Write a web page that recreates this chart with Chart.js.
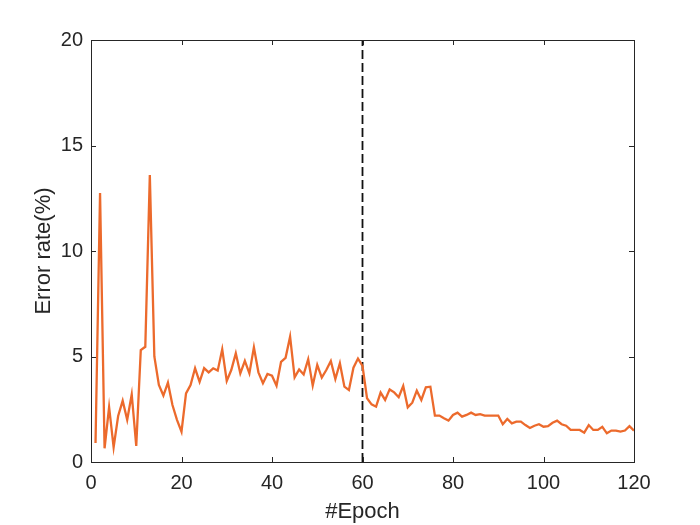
<!DOCTYPE html>
<html>
<head>
<meta charset="utf-8">
<script src="https://cdn.jsdelivr.net/npm/chart.js@4/dist/chart.umd.min.js"></script>
<style>
  body { margin: 0; background: #fff; }
  #wrap { width: 700px; height: 525px; }
</style>
</head>
<body>
<div id="wrap"><canvas id="c" width="700" height="525"></canvas></div>
<script>
// error rate (%) for epochs 1..120
var errorRate = [
  0.9, 12.75, 0.65, 2.6, 0.7, 2.18, 2.9, 2.0, 3.2, 0.76,
  5.3, 5.46, 13.6, 5.0, 3.65, 3.15, 3.76, 2.7, 2.0, 1.44,
  3.25, 3.65, 4.44, 3.8, 4.45, 4.25, 4.44, 4.33, 5.34, 3.84,
  4.36, 5.15, 4.2, 4.79, 4.2, 5.43, 4.25, 3.73, 4.17, 4.09,
  3.62, 4.75, 4.94, 5.94, 4.01, 4.39, 4.15, 4.87, 3.62, 4.6,
  4.0, 4.36, 4.79, 3.93, 4.68, 3.57, 3.41, 4.47, 4.9, 4.55,
  3.02, 2.73, 2.62, 3.29, 2.94, 3.44, 3.3, 3.07, 3.6, 2.59,
  2.81, 3.38, 2.94, 3.54, 3.57, 2.2, 2.2, 2.07, 1.96, 2.23,
  2.34, 2.15, 2.23, 2.34, 2.23, 2.27, 2.2, 2.2, 2.2, 2.2,
  1.79, 2.04, 1.83, 1.91, 1.91, 1.75, 1.61, 1.72, 1.79, 1.67,
  1.7, 1.86, 1.96, 1.79, 1.72, 1.52, 1.52, 1.52, 1.39, 1.75,
  1.52, 1.52, 1.67, 1.36, 1.49, 1.49, 1.44, 1.49, 1.7, 1.49
];
var epochs = errorRate.map(function (v, i) { return i + 1; });
var markerEpoch = 60;
var xTicks = [0, 20, 40, 60, 80, 100, 120];
var yTicks = [0, 5, 10, 15, 20];

var points = epochs.map(function (e, i) { return { x: e, y: errorRate[i] }; });
var markerLine = [{ x: markerEpoch, y: yTicks[0] }, { x: markerEpoch, y: yTicks[yTicks.length - 1] }];

var axisColor = '#262626';
var fontFamily = 'Liberation Sans, Arial, sans-serif';

// box + inward ticks, MATLAB style
var boxPlugin = {
  id: 'boxTicks',
  afterDraw: function (chart) {
    var ctx = chart.ctx, a = chart.chartArea;
    var xs = chart.scales.x, ys = chart.scales.y;
    var len = 5;
    ctx.save();
    ctx.strokeStyle = axisColor;
    ctx.lineWidth = 1;
    ctx.strokeRect(Math.round(a.left) + 0.5, Math.round(a.top) + 0.5,
                   Math.round(a.right - a.left), Math.round(a.bottom - a.top));
    ctx.beginPath();
    xTicks.forEach(function (t) {
      var px = Math.round(xs.getPixelForValue(t)) + 0.5;
      ctx.moveTo(px, a.bottom); ctx.lineTo(px, a.bottom - len);
      ctx.moveTo(px, a.top); ctx.lineTo(px, a.top + len);
    });
    yTicks.forEach(function (t) {
      var py = Math.round(ys.getPixelForValue(t)) + 0.5;
      ctx.moveTo(a.left, py); ctx.lineTo(a.left + len, py);
      ctx.moveTo(a.right, py); ctx.lineTo(a.right - len, py);
    });
    ctx.stroke();
    ctx.restore();
  }
};

new Chart(document.getElementById('c').getContext('2d'), {
  type: 'line',
  data: {
    datasets: [{
      label: 'Error rate',
      data: points,
      borderColor: '#EC6A2C',
      borderWidth: 2.3,
      pointRadius: 0,
      tension: 0,
      fill: false
    }, {
      label: 'marker',
      data: markerLine,
      borderColor: '#111111',
      borderWidth: 1.8,
      borderDash: [9, 4],
      pointRadius: 0,
      fill: false
    }]
  },
  options: {
    responsive: false,
    animation: false,
    layout: { padding: { left: 0, right: 66, top: 40, bottom: 0 } },
    plugins: { legend: { display: false }, tooltip: { enabled: false } },
    scales: {
      x: {
        type: 'linear',
        min: 0, max: 120,
        afterBuildTicks: function (s) { s.ticks = xTicks.map(function (v) { return { value: v }; }); },
        afterFit: function (s) { s.height = 63; },
        grid: { display: false, drawTicks: false, tickLength: 0 },
        border: { display: false },
        ticks: { color: axisColor, font: { family: fontFamily, size: 20 }, padding: 9, maxRotation: 0 },
        title: { display: true, text: '#Epoch', color: axisColor, font: { family: fontFamily, size: 22 }, padding: { top: 0, bottom: 0 } }
      },
      y: {
        type: 'linear',
        min: 0, max: 20,
        afterBuildTicks: function (s) { s.ticks = yTicks.map(function (v) { return { value: v }; }); },
        afterFit: function (s) { s.width = 91; },
        grid: { display: false, drawTicks: false, tickLength: 0 },
        border: { display: false },
        ticks: { color: axisColor, font: { family: fontFamily, size: 20 }, padding: 8 },
        title: { display: true, text: 'Error rate(%)', color: axisColor, font: { family: fontFamily, size: 22 }, padding: { top: 31, bottom: 0 } }
      }
    }
  },
  plugins: [boxPlugin]
});
</script>
</body>
</html>
